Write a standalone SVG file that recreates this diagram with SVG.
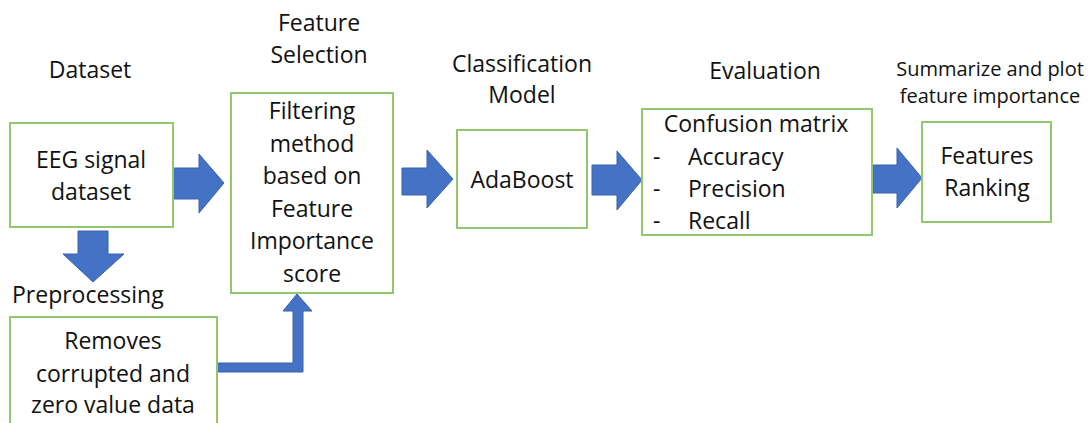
<svg xmlns="http://www.w3.org/2000/svg" width="1089" height="423" viewBox="0 0 1089 423">
  <style>
    .box { fill: #ffffff; stroke: #92c66f; stroke-width: 2; }
    .arrow { fill: #4472c4; stroke: #3a62ad; stroke-width: 1; }
    text { font-family: "Open Sans", "Noto Sans", sans-serif; fill: #111111; }
    .t { font-size: 23px; text-anchor: middle; }
    .s { font-size: 20px; text-anchor: middle; }
    .l { font-size: 23px; }
  </style>
  <rect width="1089" height="423" fill="#ffffff"/>

  <!-- stage titles -->
  <g id="titles">
    <text class="t" x="90" y="78">Dataset</text>
    <text class="t" x="319" y="31">Feature</text>
    <text class="t" x="319" y="63">Selection</text>
    <text class="t" x="522" y="72">Classification</text>
    <text class="t" x="522" y="103">Model</text>
    <text class="t" x="765" y="79">Evaluation</text>
    <text class="s" x="990" y="76">Summarize and plot</text>
    <text class="s" x="990" y="103">feature importance</text>
    <text class="l" x="12" y="303">Preprocessing</text>
  </g>

  <!-- connectors -->
  <g id="connectors">
    <polygon class="arrow" points="173,168 199,168 199,154 224,183 199,213 199,199 173,199"/>
    <polygon class="arrow" points="78,231 108,231 108,254 124,254 93,282 63,254 78,254"/>
    <polygon class="arrow" points="402,168 427,168 427,150 453,179 427,208 427,195 402,195"/>
    <polygon class="arrow" points="592,165 617,165 617,151 642,180 617,210 617,195 592,195"/>
    <polygon class="arrow" points="873,165 897,165 897,148 922,178 897,208 897,193 873,193"/>
    <polygon class="arrow" points="217,363 293,363 293,311 283,311 297,294 312,311 303,311 303,372 217,372"/>
  </g>

  <g id="node-eeg">
    <rect class="box" x="10" y="123" width="163" height="104"/>
    <text class="t" x="91" y="168">EEG signal</text>
    <text class="t" x="91" y="200">dataset</text>
  </g>

  <g id="node-filter">
    <rect class="box" x="231" y="93" width="162" height="200"/>
    <text class="t" x="312" y="119">Filtering</text>
    <text class="t" x="312" y="152">method</text>
    <text class="t" x="312" y="184">based on</text>
    <text class="t" x="312" y="217">Feature</text>
    <text class="t" x="312" y="249">Importance</text>
    <text class="t" x="312" y="282">score</text>
  </g>

  <g id="node-adaboost">
    <rect class="box" x="457" y="130" width="130" height="98"/>
    <text class="t" x="522" y="188">AdaBoost</text>
  </g>

  <g id="node-evaluation">
    <rect class="box" x="642" y="109" width="230" height="126"/>
    <text class="t" x="756" y="132">Confusion matrix</text>
    <text class="l" x="653" y="165">-</text>
    <text class="l" x="688" y="165">Accuracy</text>
    <text class="l" x="653" y="197">-</text>
    <text class="l" x="688" y="197">Precision</text>
    <text class="l" x="653" y="229">-</text>
    <text class="l" x="688" y="229">Recall</text>
  </g>

  <g id="node-ranking">
    <rect class="box" x="922" y="122" width="129" height="100"/>
    <text class="t" x="987" y="164">Features</text>
    <text class="t" x="987" y="196">Ranking</text>
  </g>

  <g id="node-preprocessing">
    <rect class="box" x="10" y="317" width="207" height="120"/>
    <text class="t" x="113" y="349">Removes</text>
    <text class="t" x="113" y="382">corrupted and</text>
    <text class="t" x="113" y="413">zero value data</text>
  </g>
</svg>
